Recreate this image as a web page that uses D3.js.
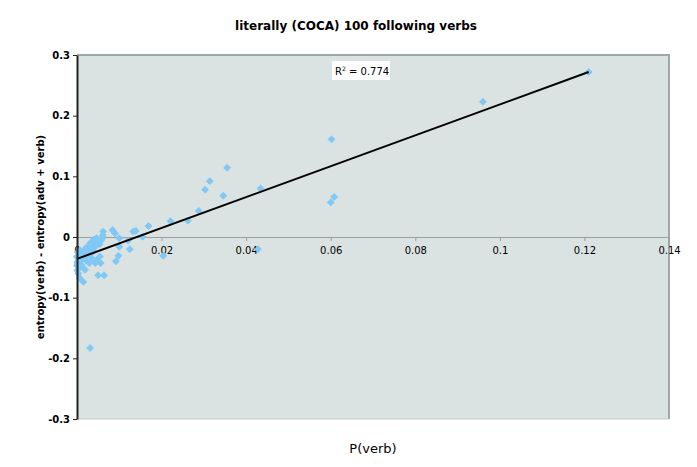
<!DOCTYPE html>
<html>
<head>
<meta charset="utf-8">
<script src="https://cdn.jsdelivr.net/npm/d3@7"></script>
<style>
  html, body { margin: 0; padding: 0; background: #fff; }
  svg { display: block; font-family: "DejaVu Sans", Verdana, sans-serif; }
</style>
</head>
<body>
<svg id="chart" width="697" height="467"></svg>
<script>
// ---- data ----
const title = "literally (COCA) 100 following verbs";
const xTitle = "P(verb)";
const yTitle = "entropy(verb) - entropy(adv + verb)";
const xTicks = [0, 0.02, 0.04, 0.06, 0.08, 0.1, 0.12, 0.14];
const yTicks = [-0.3, -0.2, -0.1, 0, 0.1, 0.2, 0.3];
const xTickLabels = ["0", "0.02", "0.04", "0.06", "0.08", "0.1", "0.12", "0.14"];
const yTickLabels = ["-0.3", "-0.2", "-0.1", "0", "0.1", "0.2", "0.3"];

const pVerb = [
  0.121, 0.096, 0.0602, 0.0355, 0.0314, 0.0303, 0.0346, 0.0434, 0.0608, 0.0600,
  0.0288, 0.0262, 0.0428, 0.0221, 0.0169, 0.0155, 0.0139, 0.0125, 0.0121, 0.0100,
  0.0100, 0.0098, 0.0092, 0.0090, 0.0084, 0.0204, 0.0062, 0.0061, 0.0058, 0.0054,
  0.0056, 0.0050, 0.0064, 0.0031, 0.0015, 0.0007, 0.0043, 0.0029, 0.0019, 0.0007,
  0.0046, 0.0039, 0.0035, 0.0027, 0.0023, 0.0015, 0.0011, 0.0003, 0.0001, 0.0003,
  0.0007, 0.0019, 0.0030, 0.0043, 0.0039, 0.0000, 0.0001, 0.0133, 0.0003, 0.0050,
  0.0042, 0.0034, 0.0026, 0.0018, 0.0012, 0.0006, 0.0002, 0.0048, 0.0052, 0.0036,
  0.0044, 0.0040, 0.0031, 0.0025, 0.0021, 0.0037, 0.0033, 0.0028, 0.0017, 0.0009,
  0.0013, 0.0005, 0.0000, 0.0002, 0.0008, 0.0047, 0.0053, 0.0059, 0.0022, 0.0011
];
const entropyDiff = [
  0.272, 0.223, 0.161, 0.114, 0.092, 0.078, 0.068, 0.080, 0.066, 0.057,
  0.043, 0.027, -0.020, 0.026, 0.018, 0.0005, 0.010, -0.020, -0.006, -0.002,
  -0.016, -0.031, -0.040, 0.006, 0.0115, -0.031, 0.009, 0.003, -0.005, -0.032,
  -0.043, -0.063, -0.063, -0.183, -0.074, -0.068, -0.043, -0.043, -0.054, -0.049,
  -0.002, -0.008, -0.013, -0.016, -0.021, -0.024, -0.030, -0.035, -0.041, -0.030,
  -0.022, -0.033, -0.030, -0.016, -0.024, -0.047, -0.055, 0.009, -0.060, -0.010,
  -0.005, -0.020, -0.026, -0.028, -0.037, -0.040, -0.044, -0.012, -0.006, -0.036,
  -0.009, -0.004, -0.010, -0.019, -0.018, -0.014, -0.020, -0.024, -0.028, -0.033,
  -0.026, -0.038, -0.033, -0.025, -0.045, -0.037, -0.012, -0.002, -0.039, -0.047
];
// linear trendline
const trendIntercept = -0.036;
const trendSlope = 2.545;
const rSquared = "0.774";

// ---- layout ----
const svg = d3.select("#chart");
const plot = { left: 77, right: 669, top: 55, bottom: 419 };

const x = d3.scaleLinear().domain([0, 0.14]).range([plot.left, plot.right]);
const y = d3.scaleLinear().domain([-0.3, 0.3]).range([plot.bottom, plot.top]);

// plot background
svg.append("rect")
  .attr("x", plot.left).attr("y", plot.top)
  .attr("width", plot.right - plot.left).attr("height", plot.bottom - plot.top)
  .attr("fill", "#dae3e1");
// top/right border
svg.append("path")
  .attr("d", `M${plot.left},${plot.top}H${plot.right}V${plot.bottom}`)
  .attr("fill", "none").attr("stroke", "#9fa8a7").attr("stroke-width", 2);
svg.append("path")
  .attr("d", `M${plot.left},${plot.bottom}H${plot.right}`)
  .attr("fill", "none").attr("stroke", "#c4cccb").attr("stroke-width", 1);

// x axis at y = 0
const xAxis = d3.axisBottom(x).tickValues(xTicks)
  .tickFormat((d, i) => xTickLabels[i]).tickSizeInner(4).tickSizeOuter(0);
const gx = svg.append("g").attr("transform", `translate(0,${y(0)})`).call(xAxis);
gx.select(".domain").attr("stroke", "#9a9f9f").attr("stroke-width", 1);
gx.selectAll(".tick line").attr("stroke", "#9a9f9f");
gx.selectAll(".tick text")
  .attr("font-family", "DejaVu Sans, Verdana, sans-serif")
  .attr("font-size", 10).attr("fill", "#000").attr("dy", "0.95em");

// points
svg.append("g").selectAll("path")
  .data(pVerb.map((v, i) => [v, entropyDiff[i]]))
  .join("path")
  .attr("transform", d => `translate(${x(d[0])},${y(d[1])})`)
  .attr("d", d3.symbol(d3.symbolDiamond2, 30))
  .attr("fill", "#80c8f6")
  .attr("stroke", "#80c8f6").attr("stroke-width", 1).attr("stroke-linejoin", "round");

// trendline
const xMax = d3.max(pVerb);
svg.append("line")
  .attr("x1", x(0)).attr("y1", y(trendIntercept))
  .attr("x2", x(xMax)).attr("y2", y(trendIntercept + trendSlope * xMax))
  .attr("stroke", "#000").attr("stroke-width", 2);

// y axis
const yAxis = d3.axisLeft(y).tickValues(yTicks)
  .tickFormat((d, i) => yTickLabels[i]).tickSizeInner(4).tickSizeOuter(0);
const gy = svg.append("g").attr("transform", `translate(${plot.left},0)`).call(yAxis);
gy.select(".domain").attr("stroke", "#222").attr("stroke-width", 2);
gy.selectAll(".tick line").attr("stroke", "#222");
gy.selectAll(".tick text")
  .attr("font-family", "DejaVu Sans, Verdana, sans-serif")
  .attr("font-size", 10).attr("font-weight", "bold").attr("fill", "#000").attr("x", -7);

// R² label
const rg = svg.append("g");
rg.append("rect").attr("x", 332).attr("y", 61).attr("width", 58).attr("height", 19).attr("fill", "#fff");
const rt = rg.append("text").attr("x", 335).attr("y", 75).attr("font-size", 10).attr("fill", "#000");
rt.append("tspan").text("R");
rt.append("tspan").attr("font-size", 6).attr("dy", -4).text("2");
rt.append("tspan").attr("dy", 4).text(" = " + rSquared);

// title
svg.append("text").attr("x", 356).attr("y", 30).attr("text-anchor", "middle")
  .attr("font-size", 12).attr("font-weight", "bold").text(title);

// axis titles
svg.append("text").attr("x", (plot.left + plot.right) / 2).attr("y", 453)
  .attr("text-anchor", "middle").attr("font-size", 13).text(xTitle);
svg.append("text")
  .attr("transform", `translate(44,${(plot.top + plot.bottom) / 2}) rotate(-90)`)
  .attr("text-anchor", "middle").attr("font-size", 10).attr("font-weight", "bold").text(yTitle);
</script>
</body>
</html>
